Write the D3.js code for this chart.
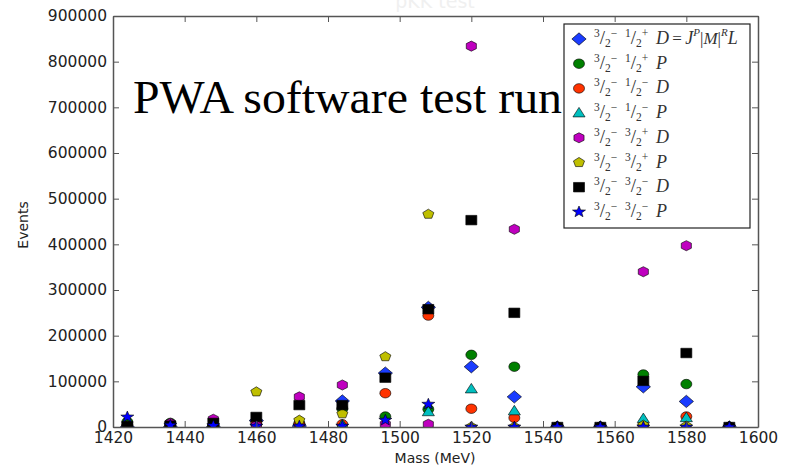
<!DOCTYPE html>
<html>
<head>
<meta charset="utf-8">
<script src="https://cdn.jsdelivr.net/npm/d3@7"></script>
<style>
  html, body { margin: 0; padding: 0; background: #fff; }
  svg text { font-family: "DejaVu Sans", sans-serif; }
</style>
</head>
<body>
<div id="chart"></div>
<script>
const mass = [1424, 1436, 1448, 1460, 1472, 1484, 1496, 1508, 1520, 1532, 1544, 1556, 1568, 1580, 1592];

const dPlusD  = [0, 0, 0, 14000, 2000, 57000, 118000, 262000, 132000, 66000, 0, 0, 88000, 56000, 0];
const dPlusP  = [11000, 9000, 3000, 6000, 8000, 40000, 23000, 39000, 158000, 132000, 0, 0, 115000, 94000, 0];
const dMinusD = [2000, 3000, 4000, 11000, 6000, 6000, 74000, 244000, 40000, 20000, 0, 0, 3000, 23000, 0];
const dMinusP = [1000, 1000, 1000, 2000, 2000, 5000, 2000, 33000, 83000, 35000, 0, 0, 18000, 20000, 0];
const qPlusD  = [1000, 8000, 17000, 3000, 66000, 92000, 6000, 6000, 834000, 433000, 0, 0, 340000, 397000, 0];
const qPlusP  = [2000, 2000, 1000, 77000, 15000, 29000, 154000, 466000, 0, 0, 0, 0, 4000, 2000, 0];
const qMinusD = [2000, 3000, 9000, 22000, 48000, 48000, 108000, 258000, 453000, 250000, 0, 0, 101000, 162000, 0];
const qMinusP = [22000, 4000, 3000, 2000, 2000, 2000, 15000, 50000, 0, 0, 0, 0, 0, 0, 0];

const xTicks = [1420, 1440, 1460, 1480, 1500, 1520, 1540, 1560, 1580, 1600];
const yTicks = [0, 100000, 200000, 300000, 400000, 500000, 600000, 700000, 800000, 900000];

// [second spin, parity, wave]
const legendParts = [["1", "+", "D"], ["1", "+", "P"], ["1", "\u2212", "D"], ["1", "\u2212", "P"],
                     ["3", "+", "D"], ["3", "+", "P"], ["3", "\u2212", "D"], ["3", "\u2212", "P"]];

const series = [
  { values: dPlusD,  shape: "diamond",  color: "#1a3cff" },
  { values: dPlusP,  shape: "circle",   color: "#008000" },
  { values: dMinusD, shape: "circle",   color: "#ff3300" },
  { values: dMinusP, shape: "triangle", color: "#00bfbf" },
  { values: qPlusD,  shape: "hexagon",  color: "#bf00bf" },
  { values: qPlusP,  shape: "pentagon", color: "#bfbf00" },
  { values: qMinusD, shape: "square",   color: "#000000" },
  { values: qMinusP, shape: "star",     color: "#0000ff" }
];

const W = 794, H = 468;
const x = d3.scaleLinear().domain([1420, 1600]).range([113, 758]);
const y = d3.scaleLinear().domain([0, 900000]).range([427, 16]);

function poly(n, r, rot) {
  return { draw(ctx) {
    for (let i = 0; i < n; i++) {
      const a = rot + i * 2 * Math.PI / n;
      const px = r * Math.sin(a), py = -r * Math.cos(a);
      i ? ctx.lineTo(px, py) : ctx.moveTo(px, py);
    }
    ctx.closePath();
  }};
}
const shapes = {
  diamond: { draw(ctx) { ctx.moveTo(0, -6.5); ctx.lineTo(6.5, 0); ctx.lineTo(0, 6.5); ctx.lineTo(-6.5, 0); ctx.closePath(); } },
  circle: { draw(ctx) { ctx.moveTo(5, 0); ctx.arc(0, 0, 5, 0, 2 * Math.PI); } },
  triangle: { draw(ctx) { ctx.moveTo(0, -6); ctx.lineTo(5.5, 4); ctx.lineTo(-5.5, 4); ctx.closePath(); } },
  hexagon: poly(6, 5.3, 0),
  pentagon: poly(5, 5.3, 0),
  square: { draw(ctx) { ctx.rect(-5, -5, 10, 10); } },
  star: { draw(ctx) {
    for (let i = 0; i < 10; i++) {
      const r = i % 2 ? 2.6 : 6.2, a = i * Math.PI / 5;
      const px = r * Math.sin(a), py = -r * Math.cos(a);
      i ? ctx.lineTo(px, py) : ctx.moveTo(px, py);
    }
    ctx.closePath();
  }}
};
const sym = s => d3.symbol().type(shapes[s])();

const svg = d3.select("#chart").append("svg").attr("width", W).attr("height", H);

// faint title, mostly cut off at the top
svg.append("text").attr("x", 435).attr("y", 8).attr("text-anchor", "middle")
  .attr("font-size", 19).attr("fill", "#f0f0f0").text("pKK test");

svg.append("defs").append("clipPath").attr("id", "clip")
  .append("rect").attr("x", 113).attr("y", 16).attr("width", 645).attr("height", 411);

// overlay text
svg.append("text").attr("x", 133).attr("y", 113)
  .style("font-family", "'Liberation Serif', 'Times New Roman', serif")
  .attr("font-size", 47).attr("textLength", 429).attr("lengthAdjust", "spacingAndGlyphs")
  .attr("fill", "#000").text("PWA software test run");

const pts = svg.append("g").attr("clip-path", "url(#clip)");
series.forEach(s => {
  pts.append("g").selectAll("path").data(s.values).join("path")
    .attr("d", sym(s.shape))
    .attr("transform", (v, i) => `translate(${x(mass[i])},${y(v)}) scale(1.1,0.95)`)
    .attr("fill", s.color).attr("stroke", "#000").attr("stroke-width", 0.6);
});

// axes (matplotlib style, inward ticks on all sides)
const axCol = "#555";
function style(g) {
  g.select(".domain").attr("stroke", axCol).attr("stroke-width", 1.5);
  g.selectAll(".tick line").attr("stroke", axCol).attr("stroke-width", 1);
  g.selectAll(".tick text").attr("fill", "#222").attr("font-size", 15.5)
    .style("font-family", "'DejaVu Sans', sans-serif");
}
svg.append("g").attr("transform", "translate(0,427)")
  .call(d3.axisBottom(x).tickValues(xTicks).tickSize(-6).tickPadding(5).tickSizeOuter(0).tickFormat(d3.format("d")))
  .call(style);
svg.append("g").attr("transform", "translate(0,16)")
  .call(d3.axisTop(x).tickValues(xTicks).tickSize(-6).tickSizeOuter(0).tickFormat(""))
  .call(style);
svg.append("g").attr("transform", "translate(113,0)")
  .call(d3.axisLeft(y).tickValues(yTicks).tickSize(-6).tickPadding(6).tickSizeOuter(0).tickFormat(d3.format("d")))
  .call(style);
svg.append("g").attr("transform", "translate(758,0)")
  .call(d3.axisRight(y).tickValues(yTicks).tickSize(-6).tickSizeOuter(0).tickFormat(""))
  .call(style);

svg.append("text").attr("x", 435).attr("y", 463).attr("text-anchor", "middle")
  .attr("font-size", 14).attr("fill", "#222").text("Mass (MeV)");
svg.append("text").attr("transform", "translate(28,225) rotate(-90)").attr("text-anchor", "middle")
  .attr("font-size", 14).attr("fill", "#222").text("Events");

// legend
const lg = svg.append("g");
lg.append("rect").attr("x", 564).attr("y", 24).attr("width", 186).attr("height", 204)
  .attr("fill", "#fff").attr("stroke", "#222").attr("stroke-width", 1.2);
const serif = "'Liberation Serif', 'Times New Roman', serif";
legendParts.forEach((p, i) => {
  const cy = 39 + i * 24.7;
  lg.append("path").attr("d", sym(series[i].shape))
    .attr("transform", `translate(579,${cy}) scale(1.1,0.95)`)
    .attr("fill", series[i].color).attr("stroke", "#000").attr("stroke-width", 0.6);
  const t = lg.append("text").attr("x", 594).attr("y", cy + 5).style("font-family", serif)
    .attr("font-size", 17).attr("fill", "#333");
  const frac = (num, sign) => {
    t.append("tspan").attr("font-size", 11.5).attr("dy", -7).text(num);
    t.append("tspan").attr("font-size", 19).attr("dy", 7).text("/");
    t.append("tspan").attr("font-size", 11.5).attr("dy", 3).text("2");
    t.append("tspan").attr("font-size", 11.5).attr("dy", -10).text(sign);
    t.append("tspan").attr("dy", 7).text("\u2009 ");
  };
  frac("3", "\u2212");
  frac(p[0], p[1]);
  t.append("tspan").attr("font-style", "italic").attr("font-size", 18).text(p[2]);
  if (i === 0) {
    t.append("tspan").attr("font-size", 17).text("\u2009=\u2009");
    t.append("tspan").attr("font-style", "italic").attr("font-size", 18).text("J");
    t.append("tspan").attr("font-style", "italic").attr("font-size", 11).attr("dy", -8).text("P");
    t.append("tspan").attr("font-size", 17).attr("dy", 8).text("|");
    t.append("tspan").attr("font-style", "italic").attr("font-size", 17).text("M");
    t.append("tspan").attr("font-size", 17).text("|");
    t.append("tspan").attr("font-style", "italic").attr("font-size", 11).attr("dy", -8).text("R");
    t.append("tspan").attr("font-style", "italic").attr("font-size", 18).attr("dy", 8).text("L");
  }
});
</script>
</body>
</html>
